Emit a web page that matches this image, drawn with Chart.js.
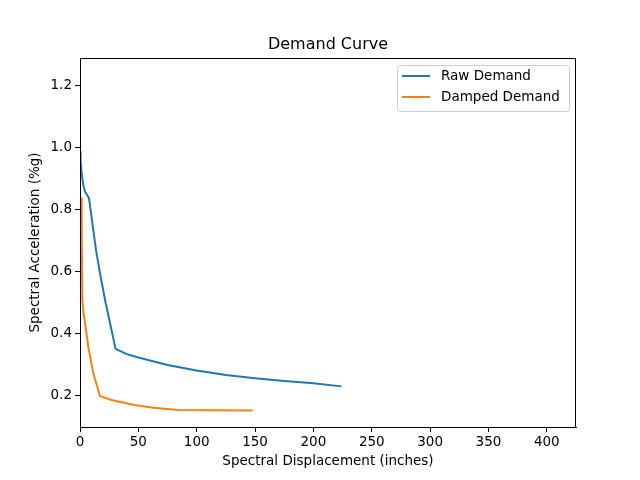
<!DOCTYPE html>
<html>
<head>
<meta charset="utf-8">
<script src="https://cdn.jsdelivr.net/npm/chart.js@4"></script>
<style>
  html, body { margin: 0; padding: 0; background: #fff; }
  #chart { display: block; }
</style>
</head>
<body>
<canvas id="chart" width="640" height="480"></canvas>
<script>
// Series
const rawSd = [0, 0.5, 1.4, 2.9, 4.3, 7.7, 13.7, 17.1, 22, 30.5, 40, 50, 75, 100, 125, 150, 175, 200, 224];
const rawSa = [0.99, 0.96, 0.918, 0.88, 0.859, 0.838, 0.671, 0.596, 0.5, 0.352, 0.335, 0.324, 0.3, 0.282, 0.268, 0.257, 0.248, 0.241, 0.231];

const dampedSd = [1.2, 1.5, 2, 3, 4.3, 7.1, 11.4, 17.1, 27, 46.5, 63, 84, 148];
const dampedSa = [0.84, 0.7, 0.51, 0.47, 0.435, 0.359, 0.273, 0.2, 0.187, 0.171, 0.162, 0.155, 0.153];

const xTicks = [0, 50, 100, 150, 200, 250, 300, 350, 400];
const yTicks = [0.2, 0.4, 0.6, 0.8, 1.0, 1.2];

const seriesNames = ["Raw Demand", "Damped Demand"];
const seriesColors = ["#1f77b4", "#ff7f0e"];

const toPoints = (xs, ys) => xs.map((x, i) => ({ x: x, y: ys[i] }));

const FONT = "DejaVu Sans";

// Draws the title, the top/right spines and the legend box in the plot
const framePlugin = {
  id: 'frame',
  afterDraw(chart) {
    const { ctx, chartArea } = chart;
    ctx.save();
    ctx.strokeStyle = '#000';
    ctx.lineWidth = 1;
    ctx.strokeRect(chartArea.left + 0.5, chartArea.top + 0.5,
      chartArea.right - chartArea.left - 1, chartArea.bottom - chartArea.top);

    ctx.fillStyle = '#000';
    ctx.font = '16px "' + FONT + '"';
    ctx.textAlign = 'center';
    ctx.textBaseline = 'alphabetic';
    ctx.fillText('Demand Curve', (chartArea.left + chartArea.right) / 2, 49);

    // legend
    const bx = 397, by = 65, bw = 172, bh = 46;
    ctx.fillStyle = 'rgba(255,255,255,0.8)';
    ctx.strokeStyle = '#cccccc';
    ctx.beginPath();
    ctx.roundRect(bx + 0.5, by + 0.5, bw, bh, 3);
    ctx.fill();
    ctx.stroke();
    ctx.font = '13.5px "' + FONT + '"';
    ctx.textAlign = 'left';
    ctx.textBaseline = 'middle';
    seriesNames.forEach((name, i) => {
      const y = by + 11 + i * 21;
      ctx.strokeStyle = seriesColors[i];
      ctx.lineWidth = 2;
      ctx.beginPath();
      ctx.moveTo(bx + 5, y);
      ctx.lineTo(bx + 33, y);
      ctx.stroke();
      ctx.fillStyle = '#000';
      ctx.fillText(name, bx + 44, y);
    });
    ctx.restore();
  }
};

new Chart(document.getElementById('chart'), {
  type: 'line',
  data: {
    datasets: [
      {
        label: seriesNames[0],
        data: toPoints(rawSd, rawSa),
        borderColor: seriesColors[0],
        borderWidth: 2,
        pointRadius: 0,
        tension: 0,
        fill: false
      },
      {
        label: seriesNames[1],
        data: toPoints(dampedSd, dampedSa),
        borderColor: seriesColors[1],
        borderWidth: 2,
        pointRadius: 0,
        tension: 0,
        fill: false
      }
    ]
  },
  options: {
    responsive: false,
    animation: false,
    devicePixelRatio: 1,
    layout: { padding: { left: 0, right: 64, top: 58, bottom: 0 } },
    plugins: {
      legend: { display: false },
      tooltip: { enabled: false }
    },
    scales: {
      x: {
        type: 'linear',
        min: 0,
        max: 425,
        afterBuildTicks: axis => { axis.ticks = xTicks.map(v => ({ value: v })); },
        afterFit: axis => { axis.height = 53; },
        border: { color: '#000', width: 1 },
        grid: { display: true, drawOnChartArea: false, drawTicks: true, tickLength: 5, color: '#000' },
        ticks: { color: '#000', font: { family: FONT, size: 13.5 }, padding: 2, maxRotation: 0 },
        title: { display: true, text: 'Spectral Displacement (inches)', color: '#000', font: { family: FONT, size: 13.5 }, padding: { top: 2, bottom: 10 } }
      },
      y: {
        type: 'linear',
        min: 0.1,
        max: 1.29,
        afterBuildTicks: axis => { axis.ticks = yTicks.map(v => ({ value: v })); },
        afterFit: axis => { axis.width = 80; },
        border: { color: '#000', width: 1 },
        grid: { display: true, drawOnChartArea: false, drawTicks: true, tickLength: 5, color: '#000' },
        ticks: { color: '#000', font: { family: FONT, size: 13.5 }, padding: 3, callback: v => v.toFixed(1) },
        title: { display: true, text: 'Spectral Acceleration (%g)', color: '#000', font: { family: FONT, size: 13.5 }, padding: { top: 27, bottom: 4 } }
      }
    }
  },
  plugins: [framePlugin]
});
</script>
</body>
</html>
